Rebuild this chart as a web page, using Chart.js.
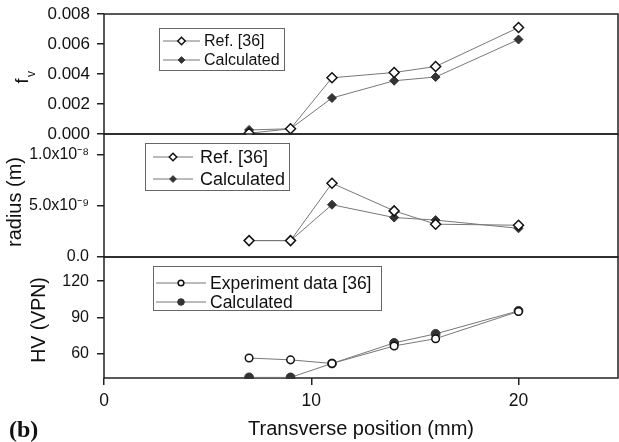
<!DOCTYPE html>
<html>
<head>
<meta charset="utf-8">
<script src="https://cdn.jsdelivr.net/npm/chart.js@4"></script>
<style>
  html, body { margin: 0; padding: 0; background: #fff; }
  #wrap { position: relative; width: 619px; height: 442px; overflow: hidden; }
  #wrap canvas { position: absolute; left: 0; top: 0; }
  .lbl { position: absolute; color: #111; white-space: nowrap; line-height: 1;
         font-family: "Liberation Sans", Arial, sans-serif; }
  .rot { transform: translate(-50%, -50%) rotate(-90deg); }
  #fvTitle { left: 21.5px; top: 81px; font-size: 18px; }
  #fvSub { left: 31px; top: 74px; font-size: 12px; }
  #radiusTitle { left: 14px; top: 202px; font-size: 20px; }
  #hvTitle { left: 38.5px; top: 320px; font-size: 19.5px; }
  #panelTag { left: 9px; top: 416px; font: bold 24px "Liberation Serif", "Times New Roman", serif; }
</style>
</head>
<body>
<div id="wrap">
  <canvas id="fvChart" width="619" height="442"></canvas>
  <canvas id="radiusChart" width="619" height="442"></canvas>
  <canvas id="hvChart" width="619" height="442"></canvas>
  <div class="lbl rot" id="fvTitle">f</div>
  <div class="lbl rot" id="fvSub">v</div>
  <div class="lbl rot" id="radiusTitle">radius (m)</div>
  <div class="lbl rot" id="hvTitle">HV (VPN)</div>
  <div class="lbl" id="panelTag">(b)</div>
</div>
<script>
// transverse positions (mm)
const xPos = [7, 9, 11, 14, 16, 20];

// volume fraction
const fvRef = [0.00005, 0.00035, 0.00375, 0.0041, 0.0045, 0.0071];
const fvCalc = [0.00027, 0.00035, 0.0024, 0.00355, 0.0038, 0.0063];

// precipitate radius (m)
const radiusRef = [1.6e-9, 1.6e-9, 7.2e-9, 4.5e-9, 3.2e-9, 3.1e-9];
const radiusCalc = [1.6e-9, 1.6e-9, 5.1e-9, 3.85e-9, 3.6e-9, 2.8e-9];

// hardness
const hvExp = [56.5, 55, 52, 66.5, 72.5, 95];
const hvCalc = [40.5, 40.5, 52, 69, 76.5, 95.5];

// tick values
const xTicks = [0, 10, 20];
const fvTicks = [0, 0.002, 0.004, 0.006, 0.008];
const radiusTicks = [0, 5e-9, 1e-8];
const hvTicks = [60, 90, 120];

const FONT = '"Liberation Sans", Arial, sans-serif';
Chart.defaults.font.family = FONT;
Chart.defaults.color = '#111';

const SUP = {'-': '\u207B', '0': '\u2070', '1': '\u00B9', '2': '\u00B2', '3': '\u00B3',
  '4': '\u2074', '5': '\u2075', '6': '\u2076', '7': '\u2077', '8': '\u2078', '9': '\u2079'};

function sciLabel(v) {
  if (v === 0) return '0.0';
  const e = Math.floor(Math.log10(Math.abs(v)) + 1e-9);
  const m = v / Math.pow(10, e);
  return m.toFixed(1) + 'x10' + String(e).split('').map(c => SUP[c]).join('');
}

function pts(ys) {
  return xPos.map((x, i) => ({x: x, y: ys[i]}));
}

// frame around each panel
const panelFrame = {
  id: 'panelFrame',
  beforeDatasetsDraw(chart) {
    const a = chart.chartArea, ctx = chart.ctx;
    ctx.save();
    ctx.strokeStyle = '#222';
    ctx.lineWidth = 1.5;
    ctx.strokeRect(a.left, a.top, a.right - a.left, a.bottom - a.top);
    ctx.restore();
  }
};

// boxed legend inside the panel
const boxLegend = {
  id: 'boxLegend',
  afterDatasetsDraw(chart, args, o) {
    const ctx = chart.ctx;
    ctx.save();
    ctx.fillStyle = '#fff';
    ctx.fillRect(o.x, o.y, o.w, o.h);
    ctx.strokeStyle = '#666';
    ctx.lineWidth = 1;
    ctx.strokeRect(o.x + 0.5, o.y + 0.5, o.w, o.h);
    chart.data.datasets.forEach((ds, i) => {
      const cy = o.y + o.rowTop + i * o.rowGap;
      ctx.strokeStyle = ds.borderColor;
      ctx.lineWidth = ds.borderWidth;
      ctx.beginPath();
      ctx.moveTo(o.x + o.line0, cy);
      ctx.lineTo(o.x + o.line1, cy);
      ctx.stroke();
      ctx.fillStyle = ds.pointBackgroundColor;
      ctx.strokeStyle = ds.pointBorderColor;
      ctx.lineWidth = ds.pointBorderWidth;
      Chart.helpers.drawPoint(ctx, {pointStyle: ds.pointStyle, radius: ds.pointRadius * 0.75,
        borderWidth: ds.pointBorderWidth, rotation: 0}, o.x + (o.line0 + o.line1) / 2, cy);
      ctx.fillStyle = '#111';
      ctx.font = o.font + 'px ' + FONT;
      ctx.textBaseline = 'middle';
      ctx.fillText(ds.label, o.x + o.textX, cy + 1);
    });
    ctx.restore();
  }
};

function series(label, ys, style, open) {
  return {
    label: label,
    data: pts(ys),
    showLine: true,
    clip: {left: 8, right: 8, top: 8, bottom: 1},
    borderColor: '#777',
    borderWidth: 1,
    pointStyle: style,
    pointRadius: open ? (style === 'circle' ? 3.8 : 5) : (style === 'circle' ? 4.4 : 4.5),
    pointBackgroundColor: open ? '#fff' : '#333',
    pointBorderColor: open ? '#111' : '#333',
    pointBorderWidth: open ? 1.5 : 1
  };
}

function yAxis(min, max, ticks, fmt, size, pad) {
  return {
    type: 'linear',
    min: min,
    max: max,
    afterBuildTicks: s => { s.ticks = ticks.map(v => ({value: v})); },
    afterFit: s => { s.width = 104; s.paddingTop = 0; s.paddingBottom = 0; },
    border: {display: false},
    grid: {drawOnChartArea: false, drawTicks: true, tickLength: 7, color: '#222', lineWidth: 1.5},
    ticks: {font: {size: size}, color: '#111', padding: pad, callback: fmt}
  };
}

function xAxis(show) {
  return {
    type: 'linear',
    min: 0,
    max: 24.8,
    display: show,
    afterBuildTicks: s => { s.ticks = xTicks.map(v => ({value: v})); },
    afterFit: s => {
      s.height = show ? 64 : 0;
      s.paddingLeft = 0;
      s.paddingRight = 0;
    },
    border: {display: false},
    grid: {drawOnChartArea: false, drawTicks: true, tickLength: 7, color: '#222', lineWidth: 1.5},
    ticks: {font: {size: 17.5}, color: '#111', padding: 6},
    title: {display: true, text: 'Transverse position (mm)', font: {size: 20}, color: '#111',
      padding: {top: 0, bottom: 1}}
  };
}

function makePanel(id, datasets, y, x, pad, legend) {
  new Chart(document.getElementById(id), {
    type: 'scatter',
    data: {datasets: datasets},
    options: {
      responsive: false,
      animation: false,
      events: [],
      layout: {padding: pad, autoPadding: false},
      plugins: {legend: {display: false}, tooltip: {enabled: false}, boxLegend: legend},
      scales: {x: x, y: y}
    },
    plugins: [panelFrame, boxLegend]
  });
}

makePanel('fvChart',
  [series('Ref. [36]', fvRef, 'rectRot', true), series('Calculated', fvCalc, 'rectRot', false)],
  yAxis(0, 0.008, fvTicks, v => v.toFixed(3), 17, 7),
  xAxis(false),
  {left: 0, right: 1, top: 14, bottom: 308},
  {x: 159, y: 28, w: 125, h: 42, rowTop: 13, rowGap: 19, line0: 4, line1: 41, textX: 45, font: 16});

makePanel('radiusChart',
  [series('Ref. [36]', radiusRef, 'rectRot', true), series('Calculated', radiusCalc, 'rectRot', false)],
  yAxis(0, 1.2e-8, radiusTicks, v => sciLabel(v), 16, 8),
  xAxis(false),
  {left: 0, right: 1, top: 134, bottom: 185},
  {x: 145, y: 143, w: 144, h: 47, rowTop: 14, rowGap: 22, line0: 8, line1: 48, textX: 55, font: 18});

makePanel('hvChart',
  [series('Experiment data [36]', hvExp, 'circle', true), series('Calculated', hvCalc, 'circle', false)],
  yAxis(40, 140, hvTicks, v => String(v), 16, 8),
  xAxis(true),
  {left: 0, right: 1, top: 257, bottom: 0},
  {x: 153, y: 266, w: 228, h: 44, rowTop: 17, rowGap: 19, line0: 3, line1: 53, textX: 57, font: 17.5});
</script>
</body>
</html>
